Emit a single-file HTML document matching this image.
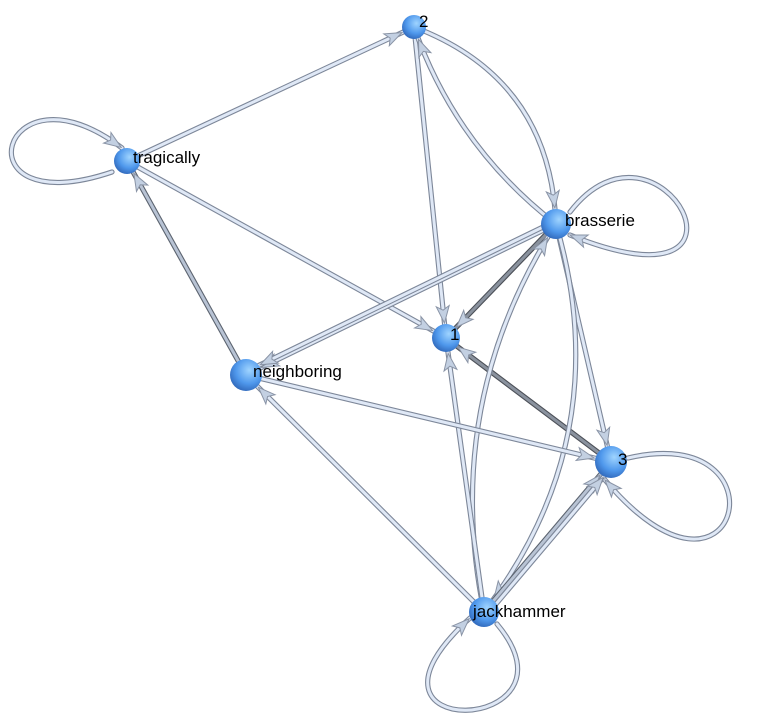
<!DOCTYPE html>
<html><head><meta charset="utf-8"><style>
html,body{margin:0;padding:0;background:#fff;width:766px;height:722px;overflow:hidden}
svg{display:block}
text{font-family:"Liberation Sans",sans-serif;font-size:17px;fill:#000}
</style></head><body>
<svg id="s" width="766" height="722" viewBox="0 0 766 722" xmlns="http://www.w3.org/2000/svg">
<defs>
<radialGradient id="g" cx="0.6" cy="0.35" r="0.7">
<stop offset="0" stop-color="#9fd4ff"/><stop offset="0.6" stop-color="#4f98ec"/><stop offset="1" stop-color="#2f66b8"/>
</radialGradient>
</defs>
<g id="edges"></g><g id="nodes"></g><g id="labels"></g>
</svg>
<script>
var N={t2:[414,27,12],tr:[127,161,13],br:[556,224,15],n1:[446,338,14],ne:[246,375,16],n3:[611,462,16],jk:[484,612,15]};
var E=[
['tr','t2',0,0],['tr','n1',0,0],['ne','tr',0,1],['t2','n1',0,0],
['t2','br',-40,0],['br','t2',-18,0],['br','ne',0,0],['br','ne',0,0,3],
['br','n1',0,2],['n3','n1',0,2],['br','n3',0,0],['br','jk',-50,0],['jk','br',-40,0],
['jk','n1',0,0],['ne','n3',0,0],['jk','ne',0,0],['jk','n3',0,1],['jk','n3',0,0,4]
];
var L=[
['tr',[112,172],[-45,225],[0,55],[122,148]],
['br',[570,212],[660,95],[780,320],[570,235]],
['n3',[628,458],[790,420],[740,640],[605,480]],
['jk',[497,624],[590,735],[330,745],[470,618]]
];
var eg=document.getElementById('edges'),ng=document.getElementById('nodes'),lg=document.getElementById('labels');
var NS='http://www.w3.org/2000/svg';
function el(t,a,p){var e=document.createElementNS(NS,t);for(var k in a)e.setAttribute(k,a[k]);p.appendChild(e);return e;}
var cols=[['#7d8799','#dfe8f6'],['#5c6470','#b8c3d4'],['#4c5058','#8a929e']];
function bez(p,t){
 if(p.length==3){var u=1-t;return [u*u*p[0][0]+2*u*t*p[1][0]+t*t*p[2][0],u*u*p[0][1]+2*u*t*p[1][1]+t*t*p[2][1]];}
 var u=1-t;return [u*u*u*p[0][0]+3*u*u*t*p[1][0]+3*u*t*t*p[2][0]+t*t*t*p[3][0],u*u*u*p[0][1]+3*u*u*t*p[1][1]+3*u*t*t*p[2][1]+t*t*t*p[3][1]];}
function draw(pts,tgt,col){
 var d=pts.length==3?'M'+pts[0]+' Q'+pts[1]+' '+pts[2]:'M'+pts[0]+' C'+pts[1]+' '+pts[2]+' '+pts[3];
 var c=cols[col];
 el('path',{d:d,fill:'none',stroke:c[0],'stroke-width':5.2,'stroke-linecap':'round'},eg);
 el('path',{d:d,fill:'none',stroke:c[1],'stroke-width':3,'stroke-linecap':'round'},eg);
 var r=tgt[2]+1,tip=null,t;
 for(t=1;t>0;t-=0.002){var q=bez(pts,t);if(Math.hypot(q[0]-tgt[0],q[1]-tgt[1])>r){tip=q;break;}}
 var b=null;for(;t>0;t-=0.002){var q=bez(pts,t);if(Math.hypot(q[0]-tip[0],q[1]-tip[1])>17){b=q;break;}}
 var dx=tip[0]-b[0],dy=tip[1]-b[1],l=Math.hypot(dx,dy);dx/=l;dy/=l;
 var w=6.5,bx=tip[0]-dx*17,by=tip[1]-dy*17;
 var p1=[bx-dy*w,by+dx*w],p2=[bx+dy*w,by-dx*w],m=[tip[0]-dx*13,tip[1]-dy*13];
 el('polygon',{points:tip+' '+p1+' '+m+' '+p2,fill:'#c3d0e2',stroke:'#8a94a6','stroke-width':1},eg);
}
E.forEach(function(e){
 var a=N[e[0]],b=N[e[1]],off=e[4]||0;
 var dx=b[0]-a[0],dy=b[1]-a[1],l=Math.hypot(dx,dy),nx=-dy/l,ny=dx/l;
 var A=[a[0]+nx*off,a[1]+ny*off],B=[b[0]+nx*off,b[1]+ny*off];
 var M=[(A[0]+B[0])/2+nx*e[2]*2,(A[1]+B[1])/2+ny*e[2]*2];
 draw([A,M,B],b,e[3]);
});
L.forEach(function(l){draw([l[1],l[2],l[3],l[4]],N[l[0]],0);});
var lab={t2:['2',5,-6],tr:['tragically',6,-4],br:['brasserie',9,-4],n1:['1',4,-4],ne:['neighboring',7,-4],n3:['3',7,-3],jk:['jackhammer',-11,-1]};
for(var k in N){var n=N[k];
 el('circle',{cx:n[0],cy:n[1],r:n[2],fill:'url(#g)'},ng);
 var t=el('text',{x:n[0]+lab[k][1],y:n[1]+lab[k][2]+6},lg);t.textContent=lab[k][0];}
</script>
</body></html>
